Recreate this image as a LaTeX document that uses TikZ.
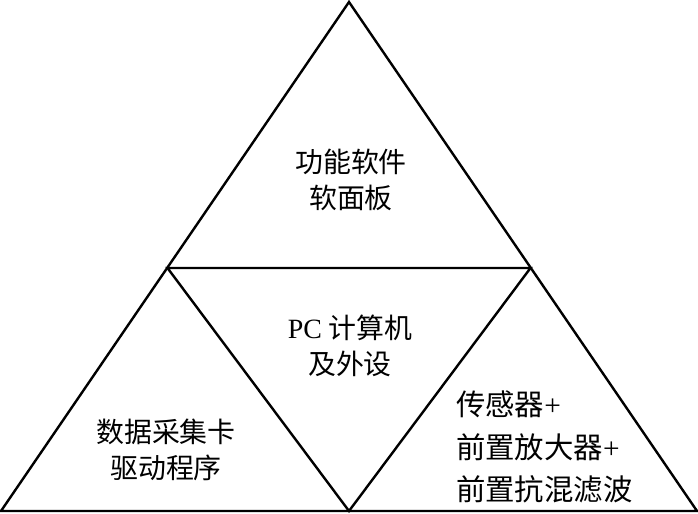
\documentclass[tikz,border=0pt]{standalone}
\usepackage{fontspec}
\setmainfont{Liberation Serif}
\newfontfamily\cjk{Noto Sans CJK SC}
\begin{document}
\begin{tikzpicture}[x=1bp,y=-1bp,
  edge/.style={line width=2.4bp,line join=miter},
  lbl/.style={font=\fontsize{28}{36}\selectfont\cjk,align=center,inner sep=0pt},
  lblr/.style={font=\fontsize{29.5}{43}\selectfont\cjk,align=left,inner sep=0pt,anchor=west}]
\useasboundingbox (0,0) rectangle (698,514);
\coordinate (top) at (349,2);
\coordinate (bl) at (1,511);
\coordinate (br) at (697,511);
\coordinate (ml) at (167.5,268);
\coordinate (mr) at (530.5,268);
\coordinate (mb) at (349,511);
\draw[edge] (top) -- (bl) -- (br) -- cycle;
\draw[edge] (ml) -- (mr) -- (mb) -- cycle;
\node[lbl] (t1) at (351,180) {功能软件\\软面板};
\node[lbl] (t2) at (350,346) {{\rmfamily PC} 计算机\\及外设};
\node[lbl] (t3) at (166,450) {数据采集卡\\驱动程序};
\node[lblr] (t4) at (456,447) {传感器{\rmfamily +}\\前置放大器{\rmfamily +}\\前置抗混滤波};
\end{tikzpicture}
\end{document}
